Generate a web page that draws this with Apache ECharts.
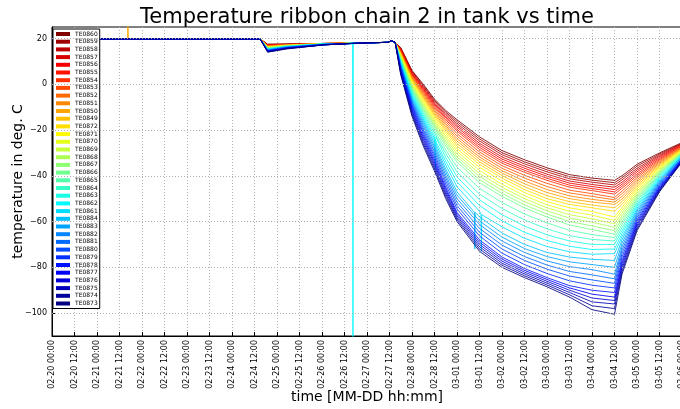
<!DOCTYPE html>
<html><head><meta charset="utf-8">
<script src="https://cdn.jsdelivr.net/npm/echarts@6/dist/echarts.min.js"></script>
<style>html,body{margin:0;padding:0;background:#fff}#c{width:680px;height:409px}</style>
</head><body><div id="c"></div>
<script>
// sensor names (legend order)
const sensorNames = ['TE0860','TE0859','TE0858','TE0857','TE0856','TE0855','TE0854','TE0853','TE0852','TE0851','TE0850','TE0849',
  'TE0872','TE0871','TE0870','TE0869','TE0868','TE0867','TE0866','TE0865','TE0864','TE0863','TE0862','TE0861',
  'TE0884','TE0883','TE0882','TE0881','TE0880','TE0879','TE0878','TE0877','TE0876','TE0875','TE0874','TE0873'];
// sample times, hours since 02-20 00:00
const hours = [0,111,115,125,145,165,179,181,183,186,192,198,204,210,216,228,240,252,264,276,288,300,304,312,324,336];
// y tick labels
const yTicks = [20,0,-20,-40,-60,-80,-100];

const TE0860 = [19.8,19.8,17.5,17.6,17.8,18,18.3,19,18.3,16,6,0,-6.5,-11.5,-15.5,-23,-29,-33,-36.5,-39.5,-41,-42,-40,-35,-30,-25.5];
const TE0859 = [19.8,19.8,17.4,17.5,17.8,18,18.3,19,18.3,15.8,5.7,-0.5,-7.1,-12.2,-16.3,-23.9,-29.9,-33.9,-37.4,-40.4,-41.9,-43,-40.9,-35.8,-30.5,-25.8];
const TE0858 = [19.8,19.8,17.3,17.5,17.8,18,18.3,19,18.3,15.5,5.3,-1,-7.7,-12.8,-17.2,-24.8,-30.8,-34.8,-38.3,-41.3,-42.8,-44,-41.8,-36.7,-31,-26];
const TE0857 = [19.8,19.8,17.2,17.4,17.8,18,18.3,19,18.3,15.3,5,-1.5,-8.3,-13.5,-18,-25.8,-31.8,-35.8,-39.3,-42.3,-43.8,-45,-42.8,-37.5,-31.5,-26.3];
const TE0856 = [19.8,19.8,17.1,17.4,17.8,18,18.3,19,18.3,15,4.7,-2,-8.8,-14.2,-18.8,-26.7,-32.7,-36.7,-40.2,-43.2,-44.7,-46,-43.7,-38.3,-32,-26.5];
const TE0855 = [19.8,19.8,17,17.3,17.8,18,18.3,19,18.3,14.8,4.3,-2.5,-9.4,-14.8,-19.7,-27.6,-33.6,-37.6,-41.1,-44.1,-45.6,-47,-44.6,-39.2,-32.5,-26.8];
const TE0854 = [19.8,19.8,16.9,17.3,17.8,18,18.3,19,18.3,14.5,4,-3,-10,-15.5,-20.5,-28.5,-34.5,-38.5,-42,-45,-46.5,-48,-45.5,-40,-33,-27];
const TE0853 = [19.8,19.8,16.8,17.2,17.8,18,18.3,19,18.3,14.3,3.6,-3.6,-10.7,-16.3,-21.6,-29.6,-35.6,-39.8,-43.3,-46.3,-47.8,-49.5,-46.7,-40.8,-33.5,-27.3];
const TE0852 = [19.8,19.8,16.7,17.2,17.8,18,18.3,19,18.3,14,3.2,-4.2,-11.3,-17.2,-22.7,-30.7,-36.7,-41,-44.7,-47.5,-49,-50.5,-47.8,-41.7,-34,-27.5];
const TE0851 = [19.8,19.8,16.6,17.1,17.8,18,18.3,19,18.3,13.8,2.8,-4.8,-12,-18,-23.8,-31.8,-37.8,-42.3,-46,-48.8,-50.3,-51.5,-49,-42.5,-34.5,-27.8];
const TE0850 = [19.8,19.8,16.5,17.1,17.8,18,18.3,19,18.3,13.5,2.3,-5.3,-12.7,-18.8,-24.8,-32.8,-38.8,-43.5,-47.3,-50,-51.5,-52.5,-50.2,-43.3,-35,-28];
const TE0849 = [19.8,19.8,16.4,17,17.8,18,18.3,19,18.3,13.3,1.9,-5.9,-13.3,-19.7,-25.9,-33.9,-39.9,-44.8,-48.7,-51.3,-52.8,-54,-51.3,-44.2,-35.5,-28.3];
const TE0872 = [19.8,19.8,16.3,17,17.6,18,18.3,19,18.3,13,1.5,-6.5,-14,-20.5,-27,-35,-41,-46,-50,-52.5,-54,-55.5,-52.5,-45,-36,-28.5];
const TE0871 = [19.8,19.8,16.2,16.9,17.6,18,18.3,19,18.3,12.7,0.9,-7.3,-14.8,-21.6,-28.2,-36.3,-42.3,-47.3,-51.3,-54,-55.6,-58,-53.8,-45.8,-36.5,-28.8];
const TE0870 = [19.8,19.8,16.1,16.9,17.6,18,18.3,19,18.3,12.3,0.3,-8,-15.7,-22.7,-29.3,-37.7,-43.7,-48.7,-52.7,-55.5,-57.2,-59.5,-55,-46.7,-37,-29];
const TE0869 = [19.8,19.8,16,16.8,17.6,18,18.3,19,18.3,12,-0.3,-8.8,-16.5,-23.8,-30.5,-39,-45,-50,-54,-57,-58.8,-61,-56.3,-47.5,-37.5,-29.3];
const TE0868 = [19.8,19.8,15.9,16.8,17.6,18,18.3,19,18.3,11.7,-0.8,-9.5,-17.3,-24.8,-31.7,-40.3,-46.3,-51.3,-55.3,-58.5,-60.3,-62.5,-57.5,-48.3,-38,-29.5];
const TE0867 = [19.8,19.8,15.8,16.7,17.6,18,18.3,19,18.3,11.3,-1.4,-10.3,-18.2,-25.9,-32.8,-41.7,-47.7,-52.7,-56.7,-60,-61.9,-64,-58.8,-49.2,-38.5,-29.8];
const TE0866 = [19.8,19.8,15.7,16.7,17.6,18,18.3,19,18.3,11,-2,-11,-19,-27,-34,-43,-49,-54,-58,-61.5,-63.5,-65.5,-60,-50,-39,-30];
const TE0865 = [19.8,19.8,15.6,16.6,17.6,18,18.3,19,18.3,10.7,-2.7,-11.8,-20.2,-28.7,-36.2,-45.5,-51.7,-56.7,-60.6,-63.8,-65.7,-67,-61.3,-50.8,-39.5,-30.3];
const TE0864 = [19.8,19.8,15.5,16.5,17.6,18,18.3,19,18.3,10.3,-3.3,-12.7,-21.3,-30.3,-38.3,-48,-54.3,-59.3,-63.2,-66.2,-67.8,-68.5,-62.7,-51.7,-40,-30.5];
const TE0863 = [19.8,19.8,15.4,16.5,17.6,18,18.3,19,18.3,10,-4,-13.5,-22.5,-32,-40.5,-50.5,-57,-62,-65.8,-68.5,-70,-70,-64,-52.5,-40.5,-30.8];
const TE0862 = [19.8,19.8,15.3,16.4,17.6,18,18.3,19,18.3,9.7,-4.7,-14.3,-23.7,-33.7,-42.7,-53,-59.7,-64.7,-68.3,-70.8,-72.2,-72,-65.3,-53.3,-41,-31];
const TE0861 = [19.8,19.8,15.2,16.4,17.6,18,18.3,19,18.3,9.3,-5.3,-15.2,-24.8,-35.3,-44.8,-55.5,-62.3,-67.3,-70.9,-73.2,-74.3,-74,-66.7,-54.2,-41.5,-31.3];
const TE0884 = [19.8,19.8,15.1,16.3,17.4,18,18.3,19,18.3,9,-6,-16,-26,-37,-47,-58,-65,-70,-73.5,-75.5,-76.5,-77,-68,-55,-42,-31.5];
const TE0883 = [19.8,19.8,15,16.2,17.4,18,18.3,19,18.3,8.6,-6.7,-17,-27.2,-38.3,-48.5,-59.7,-66.8,-71.8,-75.3,-77.6,-78.8,-80,-69.5,-55.8,-42.5,-31.8];
const TE0882 = [19.8,19.8,14.9,16.1,17.4,18,18.3,19,18.3,8.2,-7.3,-18,-28.3,-39.7,-50,-61.3,-68.5,-73.5,-77.2,-79.7,-81,-83,-71,-56.7,-43,-32];
const TE0881 = [19.8,19.8,14.8,16.1,17.4,18,18.3,19,18.3,7.8,-8,-19,-29.5,-41,-51.5,-63,-70.3,-75.3,-79,-81.8,-83.3,-85,-72.5,-57.5,-43.5,-32.3];
const TE0880 = [19.8,19.8,14.7,16,17.4,18,18.3,19,18.3,7.3,-8.7,-20,-30.7,-42.3,-53,-64.7,-72,-77,-80.8,-83.8,-85.5,-87,-74,-58.3,-44,-32.5];
const TE0879 = [19.8,19.8,14.6,15.9,17.4,18,18.3,19,18.3,6.9,-9.3,-21,-31.8,-43.7,-54.5,-66.3,-73.8,-78.8,-82.7,-85.9,-87.8,-89,-75.5,-59.2,-44.5,-32.8];
const TE0878 = [19.8,19.8,14.5,15.8,17.2,18,18.3,19,18.3,6.5,-10,-22,-33,-45,-56,-68,-75.5,-80.5,-84.5,-88,-90,-91,-77,-60,-45,-33];
const TE0877 = [19.8,19.8,14.4,15.7,17.2,18,18.3,19,18.3,6,-10.8,-23,-34,-46,-56.8,-69,-76.4,-81.3,-85.3,-89,-91.7,-93,-78.2,-60.8,-45.4,-33.2];
const TE0876 = [19.8,19.8,14.3,15.7,17.2,18,18.3,19,18.3,5.5,-11.6,-24,-35,-47,-57.6,-70,-77.3,-82.1,-86.1,-90,-93.4,-94.5,-79.4,-61.6,-45.8,-33.4];
const TE0875 = [19.8,19.8,14.2,15.6,17.2,18,18.3,19,18.3,5,-12.4,-25,-36,-48,-58.4,-71,-78.2,-82.9,-86.9,-91,-95.1,-96,-80.6,-62.4,-46.2,-33.6];
const TE0874 = [19.8,19.8,14.1,15.5,17.2,18,18.3,19,18.3,4.5,-13.2,-26,-37,-49,-59.2,-72,-79.1,-83.7,-87.7,-92,-96.8,-98,-81.8,-63.2,-46.6,-33.8];
const TE0873 = [19.8,19.8,14,15.4,17.2,18,18.3,19,18.3,4,-14,-27,-38,-50,-60,-73,-80,-84.5,-88.5,-93,-98.5,-100.5,-83,-64,-47,-34];

// short sensor glitches: [sensor, hour, value before/after, glitch value]
const glitches = [
  ['TE0850',40.5,19.8,60],
  ['TE0862',160.5,17.6,-150],
  ['TE0863',204.5,-23,-37],
  ['TE0884',225.5,-56,-72],
  ['TE0861',229,-57,-73]
];

const valuesBySensor = {TE0860,TE0859,TE0858,TE0857,TE0856,TE0855,TE0854,TE0853,TE0852,TE0851,TE0850,TE0849,
  TE0872,TE0871,TE0870,TE0869,TE0868,TE0867,TE0866,TE0865,TE0864,TE0863,TE0862,TE0861,
  TE0884,TE0883,TE0882,TE0881,TE0880,TE0879,TE0878,TE0877,TE0876,TE0875,TE0874,TE0873};

const T0 = Date.UTC(2014,1,20,0,0);
const HR = 3600*1000;
function pad(n){return String(n).padStart(2,'0');}
function fmtTime(v){const d=new Date(v);return pad(d.getUTCMonth()+1)+'-'+pad(d.getUTCDate())+' '+pad(d.getUTCHours())+':'+pad(d.getUTCMinutes());}
function jet(t){const c=x=>Math.round(255*Math.max(0,Math.min(1,x)));return 'rgb('+c(1.5-Math.abs(4*t-3))+','+c(1.5-Math.abs(4*t-2))+','+c(1.5-Math.abs(4*t-1))+')';}

const FONT = 'DejaVu Sans';
const GRIDLINE = {color:'#b0b0b0', type:[1,2], width:1};
const n = sensorNames.length;
const series = sensorNames.map((name,i)=>{
  let pts = hours.map((h,k)=>[h, valuesBySensor[name][k]]);
  glitches.filter(g=>g[0]===name).forEach(g=>{
    const h=g[1]; const idx=pts.findIndex(p=>p[0]>h);
    pts.splice(idx,0,[h-0.2,g[2]],[h,g[3]],[h+0.2,g[2]]);
  });
  const s = {
    name, type:'line', symbol:'none', showSymbol:false, animation:false,
    color: jet(1 - i/(n-1)),
    lineStyle:{width:1, opacity:0.85},
    data: pts.map(p=>[T0 + p[0]*HR, p[1]])
  };
  if(i===0){
    // horizontal grid lines at the y tick values
    s.markLine = {silent:true, symbol:'none', label:{show:false}, animation:false,
      lineStyle:GRIDLINE, data: yTicks.map(v=>({yAxis:v}))};
  }
  return s;
});

const chart = echarts.init(document.getElementById('c'), null, {renderer:'canvas'});
chart.setOption({
  animation:false,
  backgroundColor:'#fff',
  textStyle:{fontFamily:FONT},
  title:{text:'Temperature ribbon chain 2 in tank vs time', left:135, top:2,
    textStyle:{fontSize:21, fontWeight:'normal', color:'#000', fontFamily:FONT}},
  grid:{left:52, top:27, width:630, height:309, show:true, borderColor:'#000', borderWidth:1,
    containLabel:false, outerBoundsMode:'none'},
  legend:{orient:'vertical', left:53, top:29, padding:[2,2,2,3], itemWidth:14, itemHeight:4, itemGap:1.7,
    icon:'rect', selectedMode:false, borderColor:'#000', borderWidth:1, backgroundColor:'#fff',
    textStyle:{fontSize:6, lineHeight:6, color:'#000', fontFamily:FONT}, data:sensorNames},
  xAxis:{type:'value', min:T0, max:T0+336*HR, interval:12*HR,
    name:'time [MM-DD hh:mm]', nameLocation:'middle', nameGap:54, nameMoveOverlap:false,
    nameTextStyle:{fontSize:14, color:'#000', fontFamily:FONT},
    axisLine:{onZero:false, lineStyle:{color:'#000'}},
    axisTick:{inside:true, length:4, lineStyle:{color:'#000'}},
    axisLabel:{rotate:90, fontSize:8, color:'#000', margin:4, formatter:fmtTime, showMaxLabel:true, fontFamily:FONT},
    splitLine:{show:true, lineStyle:GRIDLINE}},
  yAxis:{type:'value', min:-110, max:25,
    name:'temperature in deg. C', nameLocation:'middle', nameGap:27, nameMoveOverlap:false,
    nameTextStyle:{fontSize:14, color:'#000', fontFamily:FONT},
    axisLine:{onZero:false, lineStyle:{color:'#000'}},
    axisTick:{inside:true, length:4, customValues:yTicks, lineStyle:{color:'#000'}},
    axisLabel:{fontSize:8, color:'#000', margin:5, customValues:yTicks, fontFamily:FONT,
      formatter:v=>v<0?'\u2212'+(-v):String(v)},
    splitLine:{show:false}},
  series
});
</script></body></html>
